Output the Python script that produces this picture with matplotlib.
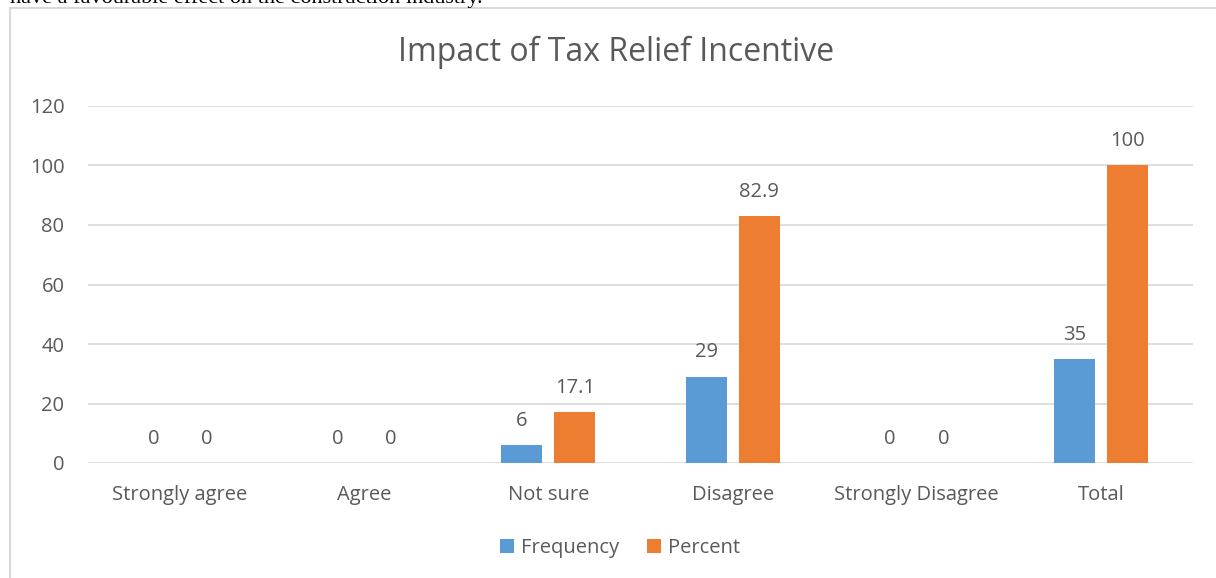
import matplotlib.pyplot as plt
import numpy as np
from matplotlib.lines import Line2D

categories = ['Strongly agree', 'Agree', 'Not sure', 'Disagree', 'Strongly Disagree', 'Total']
frequency = [0, 0, 6, 29, 0, 35]
percent = [0, 0, 17.1, 82.9, 0, 100]
freq_labels = ['0', '0', '6', '29', '0', '35']
pct_labels = ['0', '0', '17.1', '82.9', '0', '100']

blue = '#5B9BD5'
orange = '#ED7D31'
txt = '#595959'
grid = '#D9D9D9'

plt.rcParams['font.family'] = ['Open Sans', 'DejaVu Sans']

fig = plt.figure(figsize=(12.16, 5.78), dpi=100)
ax = fig.add_axes([88 / 1216, 115 / 578, 1105 / 1216, 357 / 578])

x = np.arange(len(categories))
w = 0.223
off = 0.144
b1 = ax.bar(x - off, frequency, w, color=blue, label='Frequency', zorder=3)
b2 = ax.bar(x + off, percent, w, color=orange, label='Percent', zorder=3)

for bars, labs in ((b1, freq_labels), (b2, pct_labels)):
    for r, lab in zip(bars, labs):
        ax.annotate(lab, (r.get_x() + r.get_width() / 2, r.get_height()),
                    xytext=(0, 17.5), textcoords='offset points',
                    ha='center', va='center', fontsize=14.5, color=txt)

ax.set_xlim(-0.5, len(categories) - 0.5)
ax.set_ylim(0, 120)
ax.set_yticks(range(0, 121, 20))
ax.set_xticks(x)
ax.set_xticklabels(categories)
ax.tick_params(axis='both', length=0, labelsize=14.5, colors=txt)
ax.tick_params(axis='x', pad=16)
ax.tick_params(axis='y', pad=17)
ax.grid(axis='y', color=grid, linewidth=1.2, zorder=0)
for s in ax.spines.values():
    s.set_visible(False)

fig.text(616 / 1216, 1 - 52 / 578, 'Impact of Tax Relief Incentive', ha='center', va='center',
         fontsize=23, color=txt)

fig.legend(handles=[b1, b2], loc='center', bbox_to_anchor=(620 / 1216, 1 - 548 / 578),
           ncol=2, frameon=False, fontsize=14.5, labelcolor=txt,
           handlelength=0.7, handleheight=0.7, handletextpad=0.35, columnspacing=1.4)

# chart border and cut-off text above it
fig.add_artist(Line2D([10 / 1216, 10 / 1216], [0, 1 - 8 / 578], color=grid, linewidth=1.5))
fig.add_artist(Line2D([10 / 1216, 1], [1 - 8 / 578, 1 - 8 / 578], color=grid, linewidth=1.5))
fig.text(10 / 1216, 1 - 3 / 578, 'have a favourable effect on the construction industry.',
         family='Liberation Serif', fontsize=16, va='baseline', ha='left', color='black')

fig.savefig('out.png', dpi=100)
